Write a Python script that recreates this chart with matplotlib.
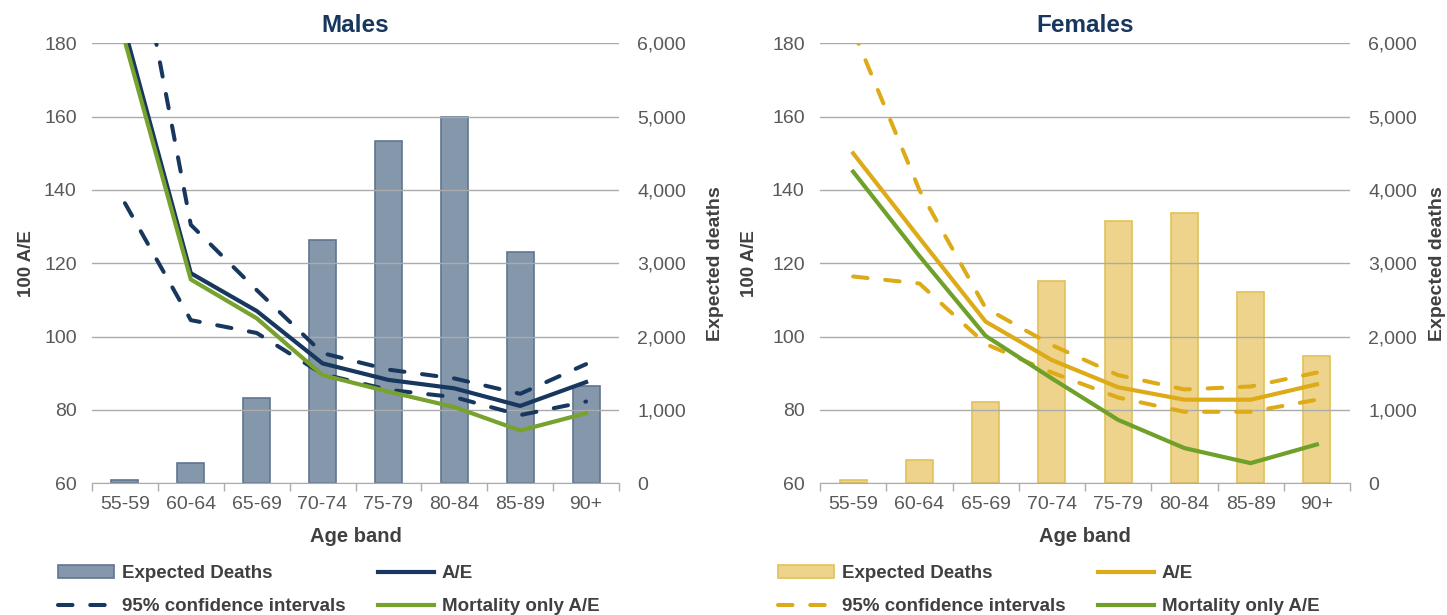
import numpy as np
import matplotlib.pyplot as plt
from matplotlib.ticker import FuncFormatter
from matplotlib.patches import Patch
from matplotlib.lines import Line2D

plt.rcParams['font.family'] = ['Liberation Sans', 'DejaVu Sans']

age_bands = ["55-59", "60-64", "65-69", "70-74", "75-79", "80-84", "85-89", "90+"]

# males
male_expected = [40, 275, 1170, 3320, 4665, 4990, 3150, 1325]
male_ae = [183.5, 117.3, 107.0, 92.7, 88.2, 85.9, 81.1, 87.6]
male_ci_upper = [225.0, 130.5, 112.7, 95.5, 91.0, 88.6, 84.4, 92.5]
male_ci_lower = [136.4, 104.5, 101.0, 89.8, 85.5, 83.5, 78.6, 82.3]
male_mort_ae = [180.5, 115.6, 105.0, 89.5, 85.0, 80.8, 74.4, 79.1]

# females
female_expected = [40, 315, 1110, 2755, 3575, 3692, 2615, 1740]
female_ae = [150.0, 126.9, 104.1, 93.6, 86.2, 82.8, 82.8, 87.0]
female_ci_upper = [183.5, 140.0, 107.8, 97.7, 89.5, 85.6, 86.4, 90.2]
female_ci_lower = [116.4, 114.5, 98.0, 90.2, 83.4, 79.5, 79.5, 82.8]
female_mort_ae = [145.0, 122.0, 100.2, 88.6, 77.3, 69.6, 65.5, 70.6]

W, H = 1447, 615
fig = plt.figure(figsize=(W / 100, H / 100), dpi=100)

tick_col = '#595959'
lab_col = '#404040'
grid_col = '#ABABAB'
dash = (3.6, 4.4)


def panel(left_px, right_px, title, expected, ae, upper, lower, mort,
          line_col, bar_col, bar_edge, green, lab_left_px, lab_right_px, leg_px):
    top_px, bot_px = 43.3, 483.3
    ax = fig.add_axes([left_px / W, 1 - bot_px / H,
                       (right_px - left_px) / W, (bot_px - top_px) / H])
    ax2 = ax.twinx()
    x = np.arange(len(age_bands))

    ax2.bar(x, expected, width=0.41, color=bar_col, edgecolor=bar_edge, linewidth=1.2)
    ax2.set_ylim(0, 6000)
    ax2.set_yticks(np.arange(0, 6001, 1000))
    ax2.yaxis.set_major_formatter(FuncFormatter(lambda v, p: f"{int(v):,}"))
    ax2.tick_params(axis='y', length=0, pad=13, labelsize=14, labelcolor=tick_col)
    for s in ax2.spines.values():
        s.set_visible(False)

    ax.set_zorder(ax2.get_zorder() + 1)
    ax.patch.set_visible(False)

    ax.plot(x, upper, color=line_col, lw=2.9, dashes=dash, dash_capstyle='round')
    ax.plot(x, lower, color=line_col, lw=2.9, dashes=dash, dash_capstyle='round')
    ax.plot(x, ae, color=line_col, lw=3.0)
    ax.plot(x, mort, color=green, lw=3.0)

    ax.set_ylim(60, 180)
    ax.set_yticks(np.arange(60, 181, 20))
    ax.set_xlim(-0.5, len(age_bands) - 0.5)
    ax.set_axisbelow(True)
    ax.yaxis.grid(True, color=grid_col, lw=1)
    ax.tick_params(axis='y', length=0, pad=11, labelsize=14, labelcolor=tick_col)

    ax.set_xticks(np.arange(-0.5, len(age_bands), 1))
    ax.set_xticklabels([])
    ax.tick_params(axis='x', which='major', length=6, width=1, color=grid_col)
    ax.set_xticks(x, minor=True)
    ax.set_xticklabels(age_bands, minor=True)
    ax.tick_params(axis='x', which='minor', length=0, pad=9, labelsize=14, labelcolor=tick_col)

    for k in ['left', 'right', 'top']:
        ax.spines[k].set_visible(False)
    ax.spines['bottom'].set_color(grid_col)

    ax.set_title(title, fontsize=17.5, fontweight='bold', color='#17375E', pad=8)
    ax.set_xlabel("Age band", fontsize=14.5, fontweight='bold', color=lab_col)
    ax.xaxis.set_label_coords(0.5, -(527 - bot_px) / (bot_px - top_px))

    mid = 1 - (top_px + bot_px) / 2 / H
    fig.text(lab_left_px / W, mid, "100 A/E", rotation=90, ha='center', va='center',
             fontsize=13.5, fontweight='bold', color=lab_col)
    fig.text(lab_right_px / W, mid, "Expected deaths", rotation=90, ha='center', va='center',
             fontsize=14, fontweight='bold', color=lab_col)

    handles = [
        Patch(facecolor=bar_col, edgecolor=bar_edge, linewidth=1.2),
        Line2D([], [], color=line_col, lw=2.9, dashes=dash, dash_capstyle='round'),
        Line2D([], [], color=line_col, lw=3.0),
        Line2D([], [], color=green, lw=3.0),
    ]
    labels = ["Expected Deaths", "95% confidence intervals", "A/E", "Mortality only A/E"]
    leg = ax.legend(handles, labels, ncol=2, loc='upper left',
                    bbox_to_anchor=(leg_px / W, 1 - 565 / H), bbox_transform=fig.transFigure,
                    frameon=False, borderpad=0, borderaxespad=0, handlelength=3.0,
                    handletextpad=0.4, columnspacing=1.75, labelspacing=0.85,
                    prop={'size': 13.5, 'weight': 'bold'})
    for t in leg.get_texts():
        t.set_color(lab_col)
    return ax


panel(92, 619, "Males", male_expected, male_ae, male_ci_upper, male_ci_lower, male_mort_ae,
      '#17375E', '#8497AB', '#5F7590', '#77A22D', 27, 716, 58)
panel(820, 1350, "Females", female_expected, female_ae, female_ci_upper, female_ci_lower,
      female_mort_ae, '#DDAA18', '#EDD38B', '#E3C158', '#6FA12A', 750, 1437, 778)

fig.savefig("out.png", dpi=100, facecolor='white')
